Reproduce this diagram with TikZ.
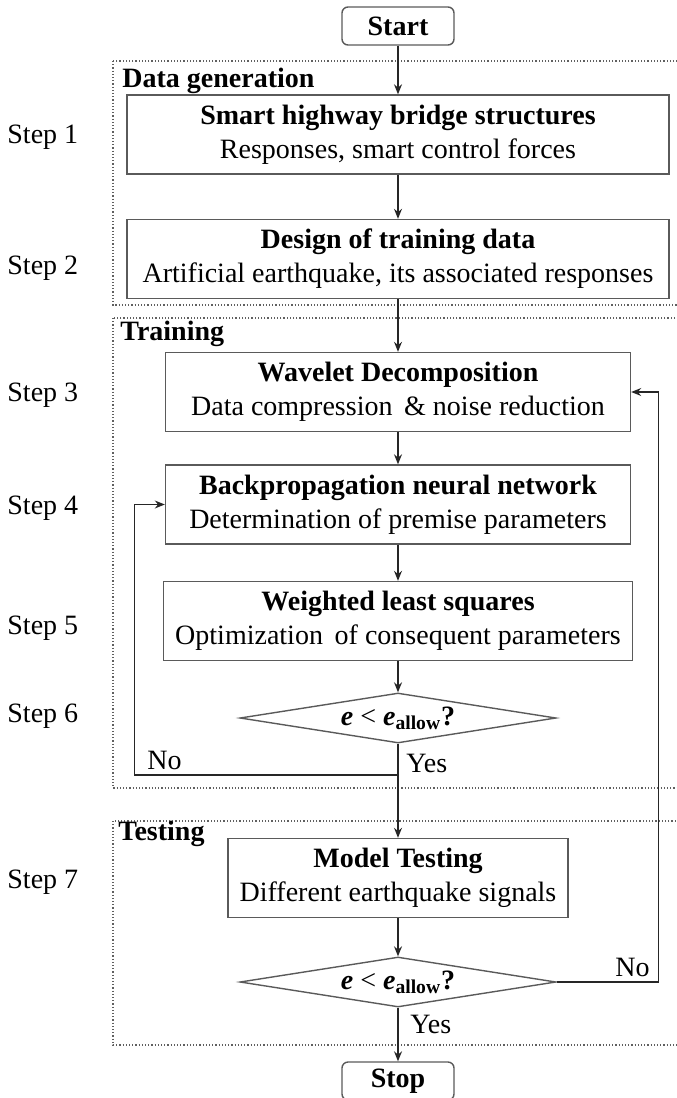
\documentclass[tikz,border=0pt]{standalone}
\usepackage{fontspec}
\setmainfont{Liberation Serif}
\usepackage{xcolor}
\usepackage{tikz}
\usetikzlibrary{calc,arrows.meta,shapes.geometric}
\definecolor{FCLine}{HTML}{5A5A5A}
\definecolor{FCDots}{HTML}{606060}

\begin{document}
\begin{tikzpicture}[
  x=0.5pt, y=-0.5pt,
  font=\fontsize{14}{17}\selectfont,
  stagebox/.style={draw=FCLine, line width=0.7pt, align=center, inner sep=0pt, minimum height=39.5pt},
  termbox/.style={draw=FCLine, line width=0.7pt, rounded corners=3pt, font=\fontsize{14}{17}\selectfont\bfseries, minimum width=56pt, minimum height=19pt, inner sep=0pt},
  testbox/.style={draw=FCLine, line width=0.7pt, diamond, aspect=6.3, minimum width=158pt, minimum height=25pt, inner sep=0pt},
  groupbox/.style={draw=FCDots, densely dotted, line width=0.6pt},
  grouplabel/.style={anchor=west, inner sep=0pt, font=\fontsize{14}{17}\selectfont\bfseries},
  steplabel/.style={anchor=west, inner sep=0pt},
  flow/.style={draw=black!85, line width=0.6pt, -{Stealth[length=5pt,width=4pt]}}
]
\useasboundingbox (0,0) rectangle (676,1098);

\draw[groupbox] (113,61) rectangle (700,305);
\draw[groupbox] (113,318) rectangle (700,788);
\draw[groupbox] (113,821) rectangle (700,1045);
\node[grouplabel] (gengroup) at (122,81) {Data generation};
\node[grouplabel] (traingroup) at (120,334) {Training};
\node[grouplabel] (testgroup) at (118,834) {Testing};

\node[steplabel] (step1) at (7,137) {Step 1};
\node[steplabel] (step2) at (7,268) {Step 2};
\node[steplabel] (step3) at (7,395) {Step 3};
\node[steplabel] (step4) at (7,508) {Step 4};
\node[steplabel] (step5) at (7,628) {Step 5};
\node[steplabel] (step6) at (7,716) {Step 6};
\node[steplabel] (step7) at (7,882) {Step 7};

\node[termbox] (start) at (398,26) {Start};
\node[stagebox, minimum width=271pt] (bridge) at (398,134.5) {\textbf{Smart highway bridge structures}\\Responses, smart control forces};
\node[stagebox, minimum width=271pt] (design) at (398,259) {\textbf{Design of training data}\\Artificial earthquake, its associated responses};
\node[stagebox, minimum width=232.5pt] (wavelet) at (398,392) {\textbf{Wavelet Decomposition}\\Data compression \,\& noise reduction};
\node[stagebox, minimum width=232.5pt] (bpnn) at (398,504.5) {\textbf{Backpropagation neural network}\\Determination of premise parameters};
\node[stagebox, minimum width=234.5pt] (wls) at (398,621) {\textbf{Weighted least squares}\\Optimization \,of consequent parameters};
\node[testbox] (check1) at (398,718) {{\bfseries\itshape e} < {\bfseries\itshape e}\textsubscript{\bfseries allow}\textbf{?}};
\node[stagebox, minimum width=170pt] (modeltest) at (398,878) {\textbf{Model Testing}\\Different earthquake signals};
\node[testbox] (check2) at (398,982) {{\bfseries\itshape e} < {\bfseries\itshape e}\textsubscript{\bfseries allow}\textbf{?}};
\node[termbox] (stop) at (398,1081) {Stop};

\node[anchor=west, inner sep=0pt] (yes1) at (406,763) {Yes};
\node[anchor=west, inner sep=0pt] (no1) at (147,760) {No};
\node[anchor=east, inner sep=0pt] (no2) at (650,967) {No};
\node[anchor=west, inner sep=0pt] (yes2) at (410,1024) {Yes};

\draw[flow] (start) -- (bridge);
\draw[flow] (bridge) -- (design);
\draw[flow] (design) -- (wavelet);
\draw[flow] (wavelet) -- (bpnn);
\draw[flow] (bpnn) -- (wls);
\draw[flow] (wls) -- (check1);
\draw[flow] (check1) -- (modeltest);
\draw[flow] (modeltest) -- (check2);
\draw[flow] (check2) -- (stop);

\coordinate (noturn) at (398,775);
\draw[flow] (noturn) -| ($(bpnn.west)+(-30,0)$) -- (bpnn.west);
\draw[flow] (check2.east) -| ($(wavelet.east)+(27,0)$) -- (wavelet.east);
\end{tikzpicture}
\end{document}
